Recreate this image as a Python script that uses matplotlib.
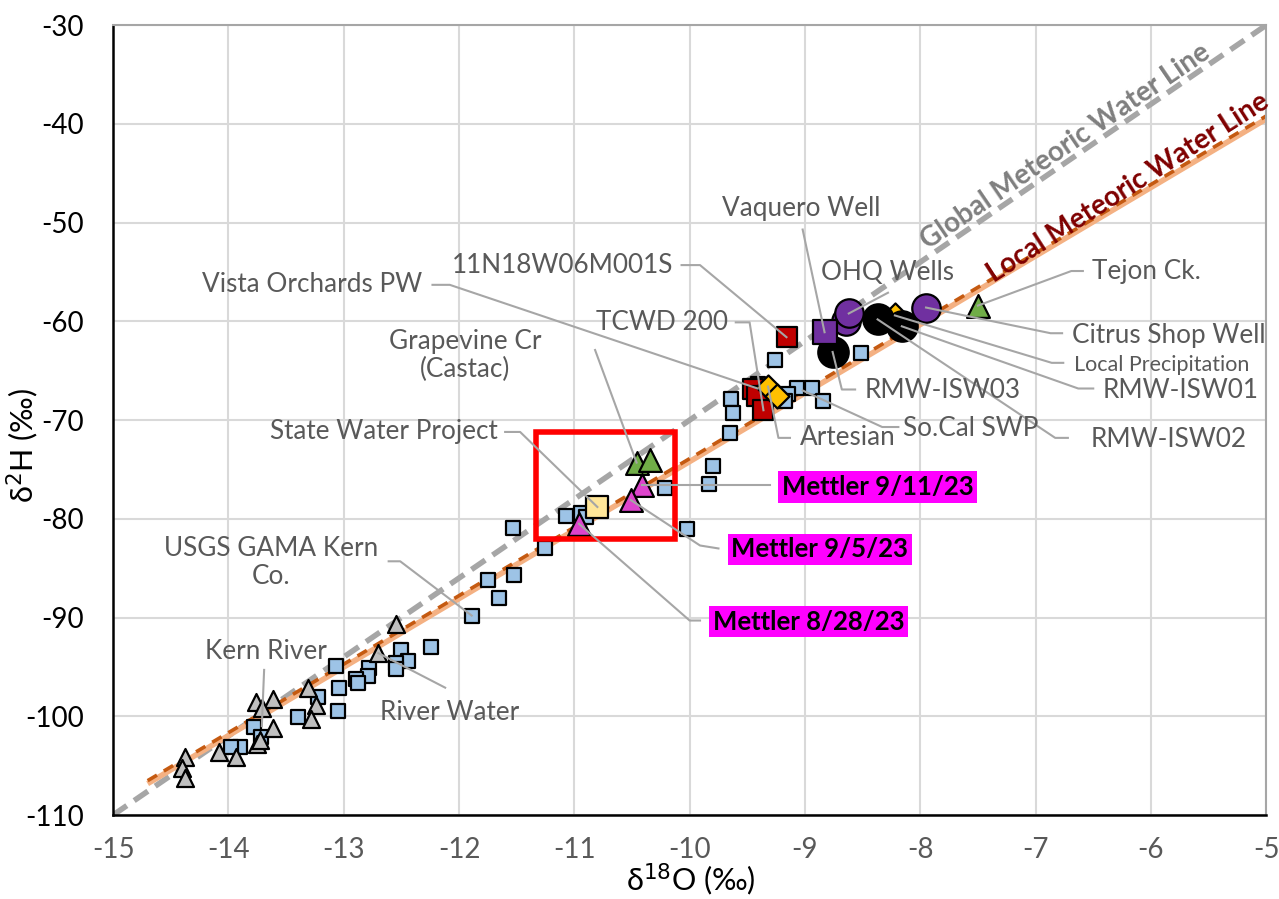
import numpy as np
import matplotlib
matplotlib.use("Agg")
import matplotlib.pyplot as plt
from matplotlib.patches import Rectangle

plt.rcParams["axes.unicode_minus"] = False

# ---------------- data ----------------
# groundwater samples (light blue squares)
gw_x = [-9.26, -8.51, -9.64, -9.62, -9.65, -9.07, -8.94, -9.15, -9.17, -8.84, -9.41,
        -9.80, -9.83, -10.21, -10.02, -11.07, -10.94, -10.90, -11.25, -11.53, -11.75,
        -11.52, -11.65, -11.89, -12.24, -12.50, -12.44, -12.55, -12.78, -13.07, -12.55,
        -12.79, -12.89, -12.88, -13.04, -13.05, -13.22, -13.40, -13.78, -13.72, -13.90,
        -13.98]
gw_y = [-63.9, -63.2, -67.9, -69.3, -71.3, -66.7, -66.7, -67.4, -68.1, -68.1, -66.3,
        -74.6, -76.5, -76.9, -81.0, -79.7, -79.4, -79.8, -83.0, -80.9, -86.2,
        -85.7, -88.0, -89.8, -93.0, -93.3, -94.4, -94.6, -95.1, -94.9, -95.2,
        -95.9, -96.2, -96.6, -97.1, -99.5, -98.0, -100.1, -101.1, -102.1, -103.1,
        -103.1]

# river water (gray triangles)
rv_x = [-12.70, -12.55, -13.31, -13.24, -13.28, -13.61, -13.76, -13.71, -13.61, -13.75,
        -13.73, -13.93, -14.08, -14.38, -14.40, -14.38]
rv_y = [-93.6, -90.7, -97.1, -98.9, -100.3, -98.2, -98.6, -99.2, -101.2, -102.8,
        -102.4, -104.1, -103.6, -104.1, -105.2, -106.2]

swp_x, swp_y = [-10.80], [-78.8]                       # State Water Project
green_x, green_y = [-10.46, -10.34, -7.50], [-74.3, -74.0, -58.4]   # Grapevine / Tejon
mettler_x, mettler_y = [-10.41, -10.51, -10.96], [-76.6, -78.1, -80.5]
red_x, red_y = [-9.16, -9.45, -9.42, -9.36], [-61.6, -66.8, -67.6, -69.0]
dia_x, dia_y = [-8.22, -9.32, -9.24], [-59.4, -66.6, -67.6]       # Local precip, Artesian, So.Cal SWP
psq_x, psq_y = [-8.83], [-61.1]                        # Vaquero Well
pc_x, pc_y = [-8.64, -8.62, -7.95], [-60.0, -59.2, -58.6]          # OHQ wells, Citrus Shop
blk_x, blk_y = [-8.76, -8.37, -8.16], [-63.1, -59.8, -60.5]        # RMW-ISW

gmwl_slope, gmwl_int = 8.0, 10.0
lmwl_slope, lmwl_int = 6.94, -4.6
lmwl_range = [-14.7, -5.0]

x_ticks = list(range(-15, -4))
y_ticks = list(range(-110, -29, 10))

# labels: text, text anchor, alignment, leader path (last point = target), font size
labels = [
    ("Vaquero Well", (-9.03, -48.6), "center", [(-9.02, -50.7), (-8.83, -61.1)], 18.8),
    ("11N18W06M001S", (-10.14, -54.3), "right", [(-10.07, -54.3), (-9.91, -54.3), (-9.16, -61.6)], 18.8),
    ("Vista Orchards PW", (-12.32, -56.3), "right", [(-12.23, -56.3), (-12.08, -56.3), (-9.41, -66.8)], 18.8),
    ("TCWD 200", (-9.67, -60.1), "right", [(-9.60, -60.1), (-9.48, -60.1), (-9.36, -69.0)], 18.8),
    ("OHQ Wells", (-8.28, -55.0), "center", [(-8.28, -57.1), (-8.62, -59.2)], 18.8),
    ("Tejon Ck.", (-6.51, -54.9), "left", [(-6.59, -54.9), (-6.69, -54.9), (-7.50, -58.4)], 18.8),
    ("Citrus Shop Well", (-6.68, -61.4), "left", [(-6.77, -61.2), (-6.87, -61.2), (-7.95, -58.6)], 18.8),
    ("Local Precipitation", (-6.67, -64.4), "left", [(-6.76, -64.2), (-6.86, -64.2), (-8.22, -59.4)], 15.5),
    ("RMW-ISW01", (-6.42, -67.0), "left", [(-6.50, -66.8), (-6.63, -66.8), (-8.16, -60.5)], 18.8),
    ("RMW-ISW02", (-6.52, -72.0), "left", [(-6.72, -71.8), (-6.83, -71.8), (-8.37, -59.8)], 18.8),
    ("RMW-ISW03", (-8.48, -67.0), "left", [(-8.565, -66.9), (-8.68, -66.9), (-8.76, -63.1)], 18.8),
    ("So.Cal SWP", (-8.15, -70.8), "left", [(-8.19, -70.7), (-8.33, -70.7), (-9.02, -67.0)], 18.8),
    ("Artesian", (-9.04, -71.8), "left", [(-9.13, -71.8), (-9.23, -71.8), (-9.32, -66.6)], 18.8),
    ("Grapevine Cr\n(Castac)", (-11.95, -63.5), "center", [(-10.82, -62.9), (-10.46, -74.3)], 18.8),
    ("State Water Project", (-11.66, -71.2), "right", [(-11.60, -71.2), (-11.47, -71.2), (-10.80, -78.8)], 18.8),
    ("USGS GAMA Kern\nCo.", (-13.63, -84.4), "center", [(-12.61, -84.3), (-12.51, -84.3), (-11.89, -89.8)], 18.8),
    ("Kern River", (-13.67, -93.4), "center", [(-13.69, -95.3), (-13.71, -101.0)], 18.8),
    ("River Water", (-12.08, -99.6), "center", [(-12.12, -97.1), (-12.70, -93.6)], 18.8),
]
mettler_labels = [
    ("Mettler 9/11/23", (-8.37, -76.8), [(-9.30, -76.6), (-10.41, -76.6)]),
    ("Mettler 9/5/23", (-8.87, -83.1), [(-9.75, -83.0), (-9.91, -82.7), (-10.51, -78.1)]),
    ("Mettler 8/28/23", (-8.97, -90.4), [(-9.91, -90.3), (-10.00, -90.3), (-10.96, -80.5)]),
]

# ---------------- figure ----------------
lab_font = "Lato"
fig = plt.figure(figsize=(12.79, 8.99), dpi=100)
ax = fig.add_axes([0.0884, 0.0934, 0.9016, 0.8786])
ax.set_xlim(-15, -5)
ax.set_ylim(-110, -30)
ax.set_xticks(x_ticks)
ax.set_yticks(y_ticks)
ax.grid(True, color="#D9D9D9", lw=1.5, zorder=0)
ax.set_axisbelow(True)
ax.tick_params(axis="both", length=0, labelsize=20)
ax.tick_params(axis="x", pad=16, labelcolor="#595959")
ax.tick_params(axis="y", pad=21, labelcolor="black")
for lab in ax.get_xticklabels() + ax.get_yticklabels():
    lab.set_family(lab_font)
ax.spines["left"].set_color("black")
ax.spines["bottom"].set_color("black")
ax.spines["left"].set_linewidth(1.8)
ax.spines["bottom"].set_linewidth(1.8)
for s in ["top", "right"]:
    ax.spines[s].set_color("#A6A6A6")
    ax.spines[s].set_linewidth(1.5)

# meteoric water lines
gx = np.array([-15, -5])
ax.plot(gx, gmwl_slope * gx + gmwl_int, color="#A6A6A6", lw=4, dashes=(3, 1.6), zorder=2)
lx = np.array(lmwl_range)
ax.plot(lx, lmwl_slope * lx + lmwl_int - 0.2, color="#F4B183", lw=4, zorder=2, solid_capstyle="butt")
ax.plot(lx, lmwl_slope * lx + lmwl_int + 0.1, color="#C55A11", lw=2.6, dashes=(3, 2.2), zorder=2.1)

# markers
ec = "black"
ax.scatter(gw_x, gw_y, marker="s", s=95, c="#9DC3E6", edgecolors=ec, linewidths=1.6, zorder=4)
ax.scatter(rv_x, rv_y, marker="^", s=150, c="#BFBFBF", edgecolors=ec, linewidths=1.6, zorder=4)
ax.scatter(swp_x, swp_y, marker="s", s=250, c="#FFE699", edgecolors=ec, linewidths=1.6, zorder=5)
ax.scatter(green_x, green_y, marker="^", s=270, c="#70AD47", edgecolors=ec, linewidths=1.6, zorder=5)
ax.scatter(mettler_x, mettler_y, marker="^", s=270, c="#DD44CC", edgecolors=ec, linewidths=1.6, zorder=5)
ax.scatter(red_x, red_y, marker="s", s=190, c="#C00000", edgecolors=ec, linewidths=1.6, zorder=5)
ax.scatter(dia_x, dia_y, marker="D", s=150, c="#FFC000", edgecolors=ec, linewidths=1.6, zorder=5)
ax.scatter(blk_x, blk_y, marker="o", s=480, c="black", edgecolors=ec, linewidths=1.6, zorder=6)
ax.scatter(pc_x, pc_y, marker="o", s=420, c="#7030A0", edgecolors=ec, linewidths=1.6, zorder=6)
ax.scatter(psq_x, psq_y, marker="s", s=300, c="#7030A0", edgecolors=ec, linewidths=1.6, zorder=6)

# red highlight box
ax.add_patch(Rectangle((-11.33, -82.0), 1.20, 10.8, fill=False, ec="#FF0000", lw=4, zorder=7))

lead_col = "#A6A6A6"
for txt, pos, ha, path, fs in labels:
    px = [p[0] for p in path]
    py = [p[1] for p in path]
    ax.plot(px, py, color=lead_col, lw=1.5, zorder=8)
    ax.text(pos[0], pos[1], txt, fontsize=fs, color="#595959", ha=ha, va="center",
            multialignment="center", family=lab_font, zorder=9, linespacing=1.15)

for txt, pos, path in mettler_labels:
    px = [p[0] for p in path]
    py = [p[1] for p in path]
    ax.plot(px, py, color=lead_col, lw=1.5, zorder=8)
    ax.text(pos[0], pos[1], txt, fontsize=18.5, color="black", ha="center", va="center",
            family=lab_font, weight="bold", zorder=9,
            bbox=dict(boxstyle="square,pad=0.15", fc="#FF00FF", ec="none"))

# line names
ax.text(-6.74, -42.3, "Global Meteoric Water Line", fontsize=20, color="#7F7F7F", weight="bold",
        family=lab_font, rotation=34.3, ha="center", va="center", rotation_mode="anchor", zorder=9)
ax.text(-6.20, -46.5, "Local Meteoric Water Line", fontsize=20, color="#7F0000", weight="bold",
        family=lab_font, rotation=32.6, ha="center", va="center", rotation_mode="anchor", zorder=9)

fig.text(0.54, 0.021, "δ$^{18}$O (‰)", fontsize=22, ha="center", va="center", family=lab_font)
fig.text(0.018, 0.505, "δ$^{2}$H (‰)", fontsize=22, ha="center", va="center", rotation=90, family=lab_font)

fig.savefig("out.png", dpi=100)
